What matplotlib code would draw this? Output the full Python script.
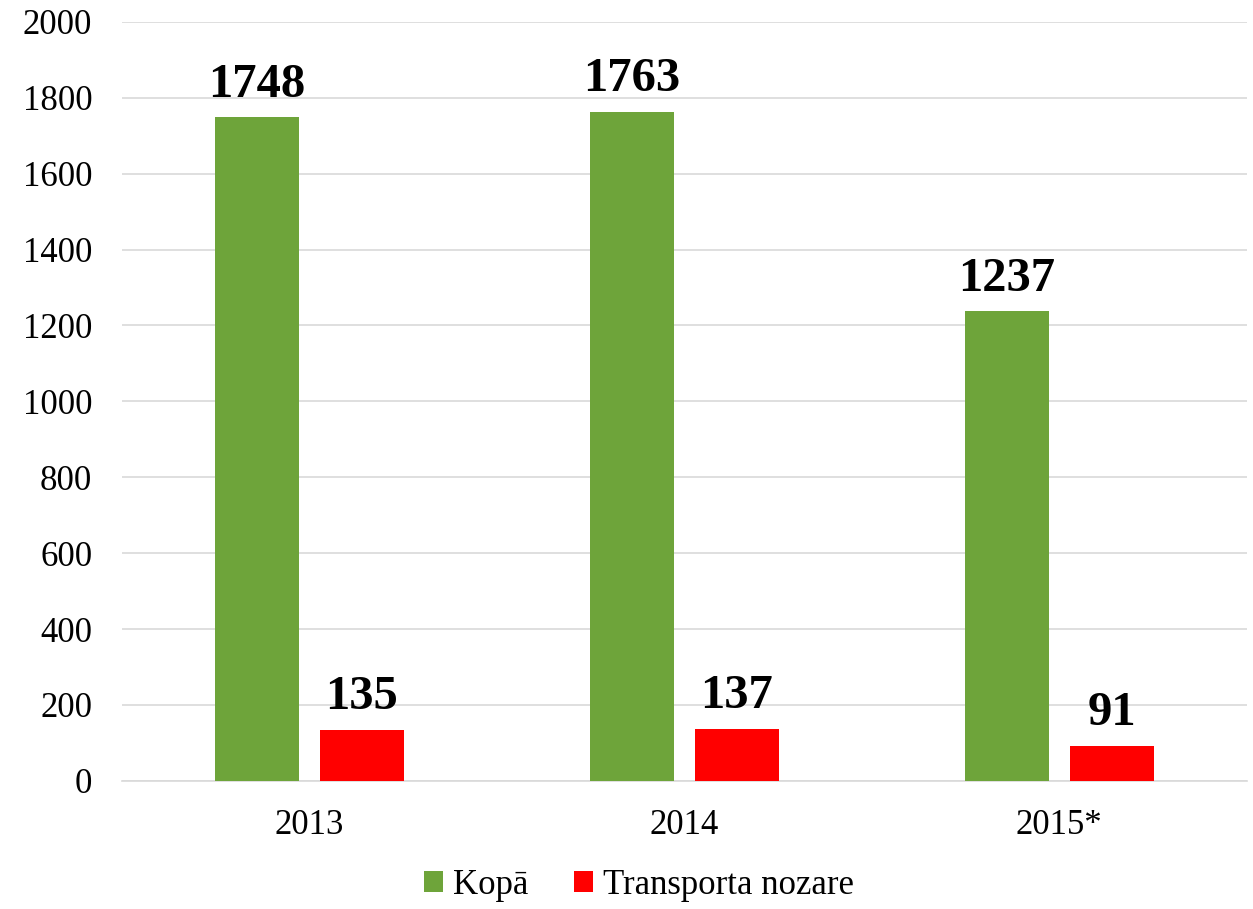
import matplotlib.pyplot as plt
import numpy as np

years = ["2013", "2014", "2015*"]
kopa = [1748, 1763, 1237]
transport = [135, 137, 91]
series_names = ["Kopā", "Transporta nozare"]

green = "#6ea43a"
red = "#ff0000"

plt.rcParams['font.family'] = ['Liberation Serif', 'DejaVu Serif']

fig = plt.figure(figsize=(12.53, 9.09), dpi=100)
ax = fig.add_axes([0.097, 0.141, 0.898, 0.835])

x = np.arange(len(years))
w = 0.224
off = 0.14

b1 = ax.bar(x - off, kopa, w, color=green, label=series_names[0], zorder=3)
b2 = ax.bar(x + off, transport, w, color=red, label=series_names[1], zorder=3)

# value labels
for bars in (b1, b2):
    for r in bars:
        ax.annotate(str(int(r.get_height())),
                    (r.get_x() + r.get_width() / 2, r.get_height()),
                    xytext=(0, 15), textcoords="offset points",
                    ha="center", va="baseline",
                    fontsize=35, fontweight="bold")

ax.set_xlim(-0.5, 2.5)
ax.set_ylim(0, 2000)
ax.set_yticks(range(0, 2001, 200))
ax.set_xticks(x)
ax.set_xticklabels(years)

ax.yaxis.grid(True, color="#d9d9d9", linewidth=1.2, zorder=0)
ax.set_axisbelow(True)
for s in ["top", "right", "left"]:
    ax.spines[s].set_visible(False)
ax.spines["bottom"].set_color("#d9d9d9")
ax.spines["bottom"].set_linewidth(1.2)

ax.tick_params(axis="y", length=0, pad=21, labelsize=25)
ax.tick_params(axis="x", length=0, pad=20, labelsize=25)

fig.legend(handles=[b1, b2], loc="center", bbox_to_anchor=(0.51, 0.026),
           ncol=2, frameon=False, fontsize=25, handlelength=0.55,
           handleheight=0.55, handletextpad=0.3, columnspacing=1.3)

fig.savefig("out.png", dpi=100)
